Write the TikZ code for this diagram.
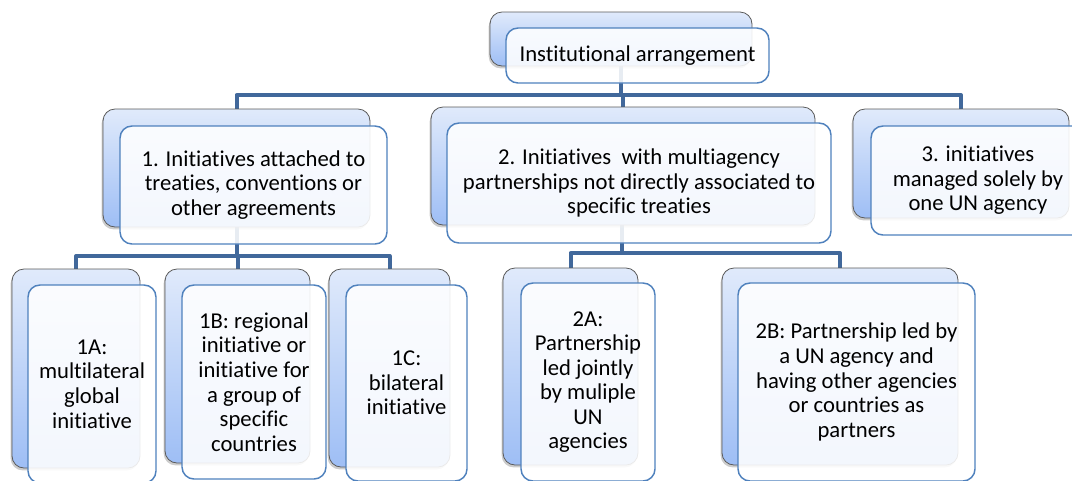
\documentclass[tikz,border=0pt]{standalone}
\usepackage{fontspec}
\setmainfont{Carlito}[Ligatures={NoCommon}]
\usetikzlibrary{fit,shadows}
\definecolor{connc}{RGB}{65,104,155}
\definecolor{frontc}{RGB}{79,129,189}
\definecolor{backtop}{RGB}{224,234,251}
\definecolor{backbot}{RGB}{158,190,245}
\definecolor{backline}{RGB}{90,90,90}
\tikzset{
  backbox/.style={draw=backline, line width=0.6pt, rounded corners=9pt, inner sep=0pt,
    top color=backtop, bottom color=backbot,
    drop shadow={opacity=0.4, shadow xshift=-1pt, shadow yshift=-1.8pt}},
  frontbox/.style={draw=frontc, line width=1.1pt, rounded corners=9pt, inner sep=0pt,
    fill=white, fill opacity=0.88},
  txt/.style={align=center, inner sep=0pt, text=black,
    font=\fontsize{17}{18.4}\selectfont},
  conn/.style={draw=connc, line width=3pt, line join=round}
}
\begin{document}
\begin{tikzpicture}[x=0.75pt,y=-0.75pt]
\useasboundingbox (0,0) rectangle (1072,480);
% hub coordinates
\coordinate (h0) at (621,95);
\coordinate (h1) at (236.5,256);
\coordinate (h2) at (622,253);
% placeholders for connector ends
\node[inner sep=0, fit={(490,12) (752,66)}] (p0) {};
\node[inner sep=0, fit={(103,109) (370,227)}] (p1) {};
\node[inner sep=0, fit={(431,107) (815,225)}] (p2) {};
\node[inner sep=0, fit={(853,109) (1069,218)}] (p3) {};
\node[inner sep=0, fit={(12,269) (140,468)}] (p1a) {};
\node[inner sep=0, fit={(165,269) (310,463)}] (p1b) {};
\node[inner sep=0, fit={(329,269) (450,467)}] (p1c) {};
\node[inner sep=0, fit={(503,268) (638,465)}] (p2a) {};
\node[inner sep=0, fit={(722,268) (958,465)}] (p2b) {};

% connectors (behind boxes)
\draw[conn] (h0 |- p0.center) -- (h0);
\draw[conn] (p1.north -| h1) |- (h0) -| (p3.north);
\draw[conn] (h0 -| p2.north) -- (p2.north);
\draw[conn] (p1.center -| h1) -- (h1);
\draw[conn] (p1a.north) |- (h1) -| (p1c.north);
\draw[conn] (h1 -| p1b.north) -- (p1b.north);
\draw[conn] (h2 |- p2.center) -- (h2);
\draw[conn] (p2a.north) |- (h2) -| (p2b.north);

% back boxes
\node[backbox, fit={(490,12) (752,66)}] (b0) {};
\node[backbox, fit={(103,109) (370,227)}] (b1) {};
\node[backbox, fit={(431,107) (815,225)}] (b2) {};
\node[backbox, fit={(853,109) (1069,218)}] (b3) {};
\node[backbox, fit={(12,269) (140,468)}] (b1a) {};
\node[backbox, fit={(165,269) (310,463)}] (b1b) {};
\node[backbox, fit={(329,269) (450,467)}] (b1c) {};
\node[backbox, fit={(503,268) (638,465)}] (b2a) {};
\node[backbox, fit={(722,268) (958,465)}] (b2b) {};

% front boxes
\node[frontbox, fit={(506,28) (769,83)}] (f0) {};
\node[frontbox, fit={(120,126) (387,244)}] (f1) {};
\node[frontbox, fit={(447,123) (831,243)}] (f2) {};
\node[frontbox, fit={(871,126) (1085,235)}] (f3) {};
\node[frontbox, fit={(28,285) (156,483)}] (f1a) {};
\node[frontbox, fit={(182,285) (326,479)}] (f1b) {};
\node[frontbox, fit={(346,285) (467,481)}] (f1c) {};
\node[frontbox, fit={(521,283) (655,481)}] (f2a) {};
\node[frontbox, fit={(738,283) (975,481)}] (f2b) {};

% texts
\node[txt] (t0) at (f0.center) {Institutional arrangement};
\node[txt] (t1) at (f1.center) {1. Initiatives attached to\\treaties, conventions or\\other agreements};
\node[txt] (t2) at (f2.center) {2. Initiatives~ with multiagency\\partnerships not directly associated to\\specific treaties};
\node[txt] (t3) at (f3.center) {3. initiatives\\managed solely by\\one UN agency};
\node[txt] (t1a) at (f1a.center) {1A:\\multilateral\\global\\initiative};
\node[txt] (t1b) at (f1b.center) {1B: regional\\initiative or\\initiative for\\a group of\\specific\\countries};
\node[txt] (t1c) at (f1c.center) {1C:\\bilateral\\initiative};
\node[txt] (t2a) at (f2a.center) {2A:\\Partnership\\led jointly\\by muliple\\UN\\agencies};
\node[txt] (t2b) at (f2b.center) {2B: Partnership led by\\a UN agency and\\having other agencies\\or countries as\\partners};
\end{tikzpicture}
\end{document}
